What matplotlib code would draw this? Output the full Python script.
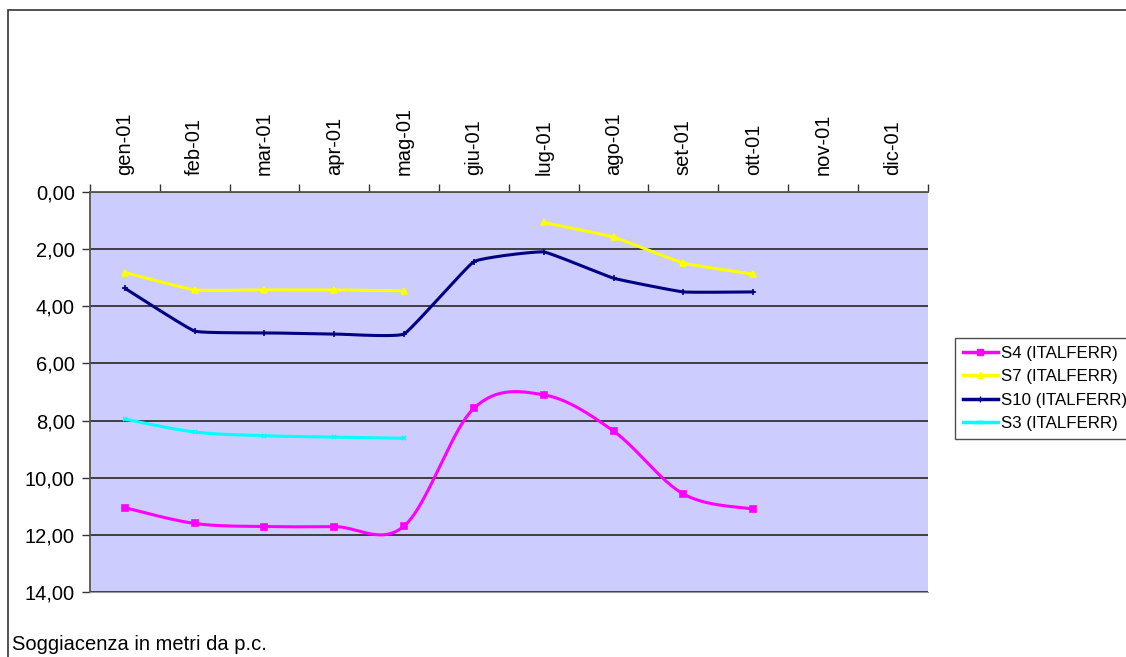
import numpy as np
import matplotlib.pyplot as plt
import matplotlib.ticker as ticker
from matplotlib.patches import Rectangle
from matplotlib.lines import Line2D

plt.rcParams['font.family'] = ['Liberation Sans', 'DejaVu Sans']

months = ["gen-01", "feb-01", "mar-01", "apr-01", "mag-01", "giu-01",
          "lug-01", "ago-01", "set-01", "ott-01", "nov-01", "dic-01"]

nan = np.nan
s4 = [11.05, 11.60, 11.71, 11.71, 11.69, 7.57, 7.10, 8.37, 10.57, 11.10, nan, nan]
s7 = [2.82, 3.43, 3.43, 3.43, 3.46, nan, 1.07, 1.58, 2.49, 2.88, nan, nan]
s10 = [3.37, 4.87, 4.93, 4.97, 4.97, 2.44, 2.10, 3.02, 3.50, 3.50, nan, nan]
s3 = [7.95, 8.40, 8.53, 8.58, 8.62, nan, nan, nan, nan, nan, nan, nan]

# name, values, colour, marker, marker size, smoothing strength
series = [
    ("S4 (ITALFERR)", s4, "#FF00FF", "s", 4.5, 1 / 6),
    ("S7 (ITALFERR)", s7, "#FFFF00", "^", 4, 1 / 20),
    ("S10 (ITALFERR)", s10, "#000080", "+", 4, 1 / 20),
    ("S3 (ITALFERR)", s3, "#00FFFF", "x", 3.5, 1 / 6),
]


def smooth(x, y, k=1 / 6, n=30):
    """Bezier smoothing through the points (like Excel's smoothed lines)."""
    if len(x) < 3 or k == 0:
        return np.asarray(x, float), np.asarray(y, float)
    P = np.column_stack([x, y]).astype(float)
    P = np.vstack([P[0], P, P[-1]])
    out = []
    t = np.linspace(0, 1, n)[:, None]
    for i in range(1, len(P) - 2):
        p0, p1, p2, p3 = P[i - 1], P[i], P[i + 1], P[i + 2]
        b1 = p1 + (p2 - p0) * k
        b2 = p2 - (p3 - p1) * k
        seg = ((1 - t) ** 3) * p1 + 3 * ((1 - t) ** 2) * t * b1 \
            + 3 * (1 - t) * t ** 2 * b2 + t ** 3 * p2
        out.append(seg if i == 1 else seg[1:])
    out = np.vstack(out)
    return out[:, 0], out[:, 1]


fig = plt.figure(figsize=(11.26, 6.57), dpi=100)
ax = fig.add_axes([0.0799, 0.0989, 0.744, 0.609])
ax.set_facecolor("#CCCCFF")

# outer frame of the chart object
fig.patches.append(Rectangle((8 / 1126, -0.1), 1.2, 1 - 10 / 657 + 0.1,
                             transform=fig.transFigure, fill=False,
                             edgecolor="#333333", linewidth=1.2))

xs = np.arange(len(months))
handles = []
for name, vals, col, mk, ms, k in series:
    v = np.asarray(vals, float)
    ok = ~np.isnan(v)
    idx = np.where(ok)[0]
    runs = np.split(idx, np.where(np.diff(idx) > 1)[0] + 1)
    for r in runs:
        sx, sy = smooth(xs[r], v[r], k)
        ax.plot(sx, sy, color=col, linewidth=2.2, solid_capstyle="round", zorder=3)
    ax.plot(xs[ok], v[ok], linestyle="none", marker=mk, markersize=ms,
            color=col, markeredgecolor=col, markeredgewidth=1.2, zorder=4)
    handles.append(Line2D([], [], color=col, linewidth=2.5, marker=mk,
                          markersize=ms, markeredgecolor=col, label=name))

ax.set_xlim(-0.5, 11.5)
ax.set_ylim(14, 0)
ax.set_yticks(np.arange(0, 15, 2))
ax.yaxis.set_major_formatter(ticker.FuncFormatter(lambda v, p: f"{v:.2f}".replace(".", ",")))
ax.grid(axis="y", color="#333333", linewidth=1.3)
ax.set_axisbelow(True)

ax.xaxis.tick_top()
ax.set_xticks(np.arange(-0.5, 12, 1))
ax.xaxis.set_major_formatter(ticker.NullFormatter())
ax.set_xticks(xs, minor=True)
ax.set_xticklabels(months, minor=True, rotation=90, fontsize=14.5)
ax.tick_params(axis="x", which="minor", length=0, pad=12)
ax.tick_params(axis="x", which="major", length=6, width=1, color="#333333")
ax.tick_params(axis="y", length=6, width=1, color="#333333", labelsize=14.5, pad=5)

for s in ["left", "top"]:
    ax.spines[s].set_color("#555555")
    ax.spines[s].set_linewidth(1.3)
ax.spines["bottom"].set_color("#999999")
ax.spines["right"].set_visible(False)

fig.legend(handles=handles, loc="upper left", bbox_to_anchor=(955 / 1126, 1 - 338 / 657),
           frameon=True, fancybox=False, edgecolor="#222222", fontsize=12.2,
           handlelength=2.1, handletextpad=0.15, borderpad=0.45, labelspacing=0.5,
           borderaxespad=0)

fig.text(12 / 1126, 1 - 645 / 657, "Soggiacenza in metri da p.c.", fontsize=14.5,
         va="center", ha="left")

fig.savefig("out.png", dpi=100)
